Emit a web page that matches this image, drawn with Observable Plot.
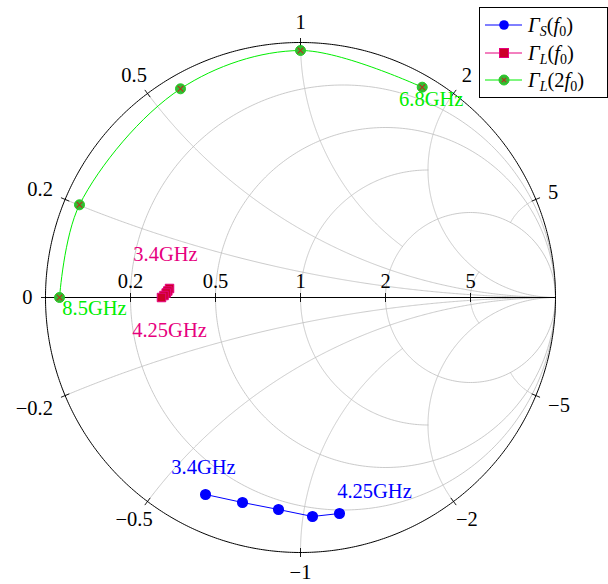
<!DOCTYPE html>
<html><head><meta charset="utf-8">
<script src="https://cdn.jsdelivr.net/npm/d3@7"></script>
<script src="https://cdn.jsdelivr.net/npm/@observablehq/plot@0.6"></script>
<style>
body{margin:0;background:#fff;}
#wrap{position:relative;width:608px;height:584px;}
</style></head><body><div id="wrap"></div>
<script>
// ---- axis ticks ----
const resistanceTicks = [0.2, 0.5, 1, 2, 5];
const resistanceLabels = ["0.2", "0.5", "1", "2", "5"];
const reactanceTicks = [-5, -2, -1, -0.5, -0.2, 0, 0.2, 0.5, 1, 2, 5];
const reactanceLabels = ["−5", "−2", "−1", "−0.5", "−0.2", "0", "0.2", "0.5", "1", "2", "5"];
// grid line extents (pgfplots-like stops)
const resistanceGridMaxX = [Infinity, Infinity, 2, Infinity, 2];
const reactanceGridMaxR = [2, Infinity, 2, Infinity, Infinity, null, Infinity, Infinity, 2, Infinity, 2];

// ---- series (reflection coefficient, re / im) ----
const gammaSre = [-0.3725, -0.2275, -0.0863, 0.0471, 0.1529];
const gammaSim = [-0.7725, -0.8039, -0.8314, -0.8588, -0.8471];
const gammaLre = [-0.5137, -0.5204, -0.5267, -0.5353, -0.5451];
const gammaLim = [0.0353, 0.0255, 0.0176, 0.0078, 0.0];
const gammaL2re = [0.4773, 0.0, -0.4706, -0.8667, -0.9450];
const gammaL2im = [0.8247, 0.9686, 0.8184, 0.3635, 0.0];
const freqStartS = "3.4GHz", freqEndS = "4.25GHz";
const freqStartL = "3.4GHz", freqEndL = "4.25GHz";
const freqStartL2 = "6.8GHz", freqEndL2 = "8.5GHz";

const toPts = (re, im) => re.map((v, i) => ({x: v, y: im[i]}));
const S = toPts(gammaSre, gammaSim);
const L = toPts(gammaLre, gammaLim);
const L2 = toPts(gammaL2re, gammaL2im);

// z = r + jx  ->  Gamma
function gamma(r, x) {
  if (!isFinite(r) || !isFinite(x)) return [1, 0];
  const d = (r + 1) * (r + 1) + x * x;
  return [(r * r - 1 + x * x) / d, (2 * x) / d];
}

const N = 400;
const grid = [];
resistanceTicks.forEach((r, i) => {
  const m = resistanceGridMaxX[i];
  const th = isFinite(m) ? Math.atan(m) : Math.PI / 2 - 1e-7;
  for (let k = 0; k <= N; k++) {
    const t = -th + (2 * th * k) / N;
    const g = gamma(r, Math.tan(t));
    grid.push({x: g[0], y: g[1], id: "r" + r});
  }
});
reactanceTicks.forEach((x, i) => {
  if (x === 0) return;
  const m = reactanceGridMaxR[i];
  const ph = isFinite(m) ? Math.atan(m) : Math.PI / 2 - 1e-7;
  for (let k = 0; k <= N; k++) {
    const t = (ph * k) / N;
    const g = gamma(Math.tan(t), x);
    grid.push({x: g[0], y: g[1], id: "x" + x});
  }
});

const outer = d3.range(0, 721).map(k => ({x: Math.cos(k * Math.PI / 360), y: Math.sin(k * Math.PI / 360)}));

const Rpx = 255, fs = 20.5, gap = 10;
function halfW(s) { let w = 0; for (const c of s) w += c === "." ? 0.25 : c === "−" ? 0.564 : 0.5; return w * fs / 2; }
const outerLabels = reactanceTicks.map((x, i) => {
  const g = gamma(0, x);
  const ang = Math.atan2(g[1], g[0]);
  const ux = Math.cos(ang), uy = Math.sin(ang);
  const a = halfW(reactanceLabels[i]) + 3, b = 6.8 + 3;
  const t = Math.min(Math.abs(ux) > 1e-9 ? a / Math.abs(ux) : Infinity, Math.abs(uy) > 1e-9 ? b / Math.abs(uy) : Infinity);
  const rad = 1 + (gap + t) / Rpx;
  return {x: ux * rad, y: uy * rad, text: reactanceLabels[i], g};
});
const tl = 4.5 / Rpx;
const outerTicks = outerLabels.map(d => ({x1: d.g[0] * (1 - tl), y1: d.g[1] * (1 - tl), x2: d.g[0] * (1 + tl), y2: d.g[1] * (1 + tl)}));
const axisTicks = resistanceTicks.map(r => ({x: gamma(r, 0)[0], y1: -tl, y2: tl}));
const axisLabels = resistanceTicks.map((r, i) => ({x: gamma(r, 0)[0], y: 0, text: resistanceLabels[i]}));

const blue = "#0000ff", pink = "#e6007e", green = "#00ee00";
const font = "'Liberation Serif', 'Times New Roman', serif";

const chart = Plot.plot({
  width: 608, height: 584, margin: 0,
  x: {domain: [-1, 1], range: [45, 555], axis: null},
  y: {domain: [-1, 1], range: [552, 42], axis: null},
  style: {fontFamily: font, background: "#fff"},
  marks: [
    Plot.line(grid, {x: "x", y: "y", z: "id", stroke: "#bdbdbd", strokeWidth: 0.8}),
    Plot.line(outer, {x: "x", y: "y", stroke: "#000", strokeWidth: 1}),
    Plot.ruleY([0], {x1: -1, x2: 1, stroke: "#000", strokeWidth: 1.1}),
    Plot.link(outerTicks, {x1: "x1", y1: "y1", x2: "x2", y2: "y2", stroke: "#000", strokeWidth: 0.9}),
    Plot.link(axisTicks, {x1: "x", x2: "x", y1: "y1", y2: "y2", stroke: "#000", strokeWidth: 0.9}),
    Plot.text(outerLabels, {x: "x", y: "y", text: "text", fontSize: fs, fill: "#000"}),
    Plot.text(axisLabels, {x: "x", y: "y", text: "text", fontSize: fs, dy: -16, fill: "#000"}),
    // Gamma_S(f0)
    Plot.line(S, {x: "x", y: "y", stroke: blue, strokeWidth: 1}),
    Plot.dot(S, {x: "x", y: "y", r: 4.8, fill: blue, stroke: blue}),
    Plot.text([S[0]], {x: "x", y: "y", text: [freqStartS], fill: blue, fontSize: fs, dx: -2, dy: -27}),
    Plot.text([S[S.length - 1]], {x: "x", y: "y", text: [freqEndS], fill: blue, fontSize: fs, dx: 35, dy: -22}),
    // Gamma_L(f0)
    Plot.line(L, {x: "x", y: "y", stroke: pink, strokeWidth: 1}),
    Plot.dot(L, {x: "x", y: "y", r: 4.8, symbol: "square", fill: "#cc0028", stroke: pink, strokeWidth: 1}),
    Plot.text([L[0]], {x: "x", y: "y", text: [freqStartL], fill: pink, fontSize: fs, dx: -4, dy: -34}),
    Plot.text([L[L.length - 1]], {x: "x", y: "y", text: [freqEndL], fill: pink, fontSize: fs, dx: 8, dy: 33}),
    // Gamma_L(2f0)
    Plot.line(L2, {x: "x", y: "y", stroke: green, strokeWidth: 1, curve: "catmull-rom"}),
    Plot.dot(L2, {x: "x", y: "y", r: 5, fill: "#33bb33", stroke: "#22cc22", strokeWidth: 1}),
    Plot.dot(L2, {x: "x", y: "y", r: 2.7, symbol: "times", stroke: "#b83020", strokeWidth: 1.1}),
    Plot.text([L2[0]], {x: "x", y: "y", text: [freqStartL2], fill: green, fontSize: fs, dx: 9, dy: 12}),
    Plot.text([L2[L2.length - 1]], {x: "x", y: "y", text: [freqEndL2], fill: green, fontSize: fs, dx: 35, dy: 11})
  ]
});
const wrap = document.getElementById("wrap");
wrap.appendChild(chart);

// legend
const entries = [
  {color: blue, sym: "circle", sub: "S", arg: "f", argSub: "0", pre: ""},
  {color: pink, sym: "square", sub: "L", arg: "f", argSub: "0", pre: ""},
  {color: green, sym: "otimes", sub: "L", arg: "f", argSub: "0", pre: "2"}
];
const ns = "http://www.w3.org/2000/svg";
const lg = document.createElementNS(ns, "svg");
lg.setAttribute("width", 129); lg.setAttribute("height", 92);
let html = `<rect x="0.5" y="0.5" width="128" height="90" fill="#fff" stroke="#000" stroke-width="1"/>`;
const rows = [18, 46, 73];
entries.forEach((e, i) => {
  const cy = rows[i];
  html += `<line x1="6" x2="43" y1="${cy}" y2="${cy}" stroke="${e.color}" stroke-width="1"/>`;
  if (e.sym === "circle") html += `<circle cx="25" cy="${cy}" r="4.8" fill="${e.color}"/>`;
  if (e.sym === "square") html += `<rect x="20.5" y="${cy - 4.5}" width="9" height="9" fill="#cc0028" stroke="${pink}"/>`;
  if (e.sym === "otimes") html += `<circle cx="25" cy="${cy}" r="5" fill="#33bb33" stroke="#22cc22"/><path d="M22.8,${cy - 2.2}L27.2,${cy + 2.2}M22.8,${cy + 2.2}L27.2,${cy - 2.2}" stroke="#b83020" stroke-width="1.1"/>`;
  html += `<text x="49" y="${cy + 7}" font-family="Liberation Serif, serif" font-size="20.5" fill="#000"><tspan font-style="italic">Γ</tspan><tspan font-style="italic" font-size="14" dy="4">${e.sub}</tspan><tspan dy="-4">(${e.pre}</tspan><tspan font-style="italic">${e.arg}</tspan><tspan font-size="14" dy="4">${e.argSub}</tspan><tspan dy="-4">)</tspan></text>`;
});
lg.innerHTML = html;
lg.style.position = "absolute"; lg.style.left = "479px"; lg.style.top = "7px";
wrap.appendChild(lg);
</script></body></html>
